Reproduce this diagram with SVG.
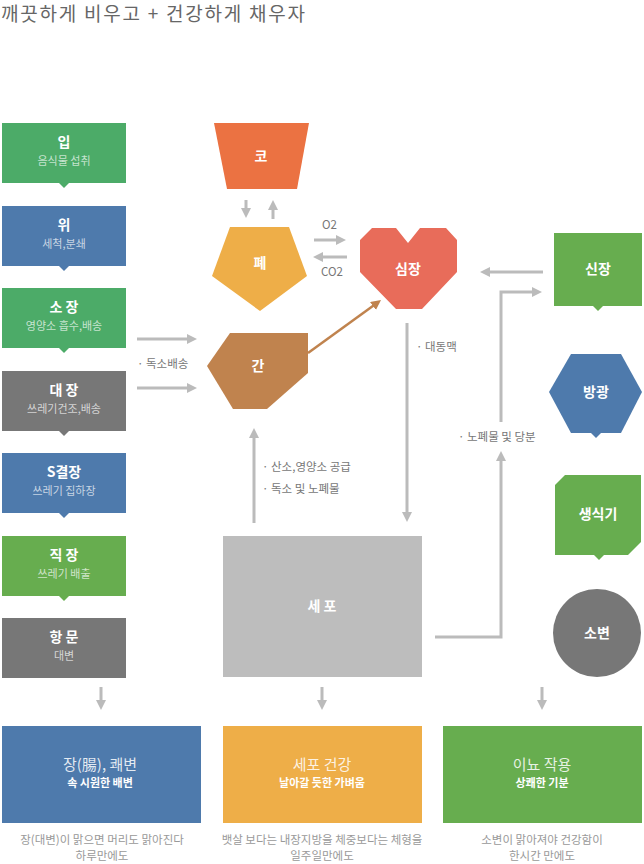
<svg xmlns="http://www.w3.org/2000/svg" width="644" height="864" viewBox="0 0 644 864">
<defs>
<marker id="ah" markerWidth="10" markerHeight="10" refX="5" refY="5" orient="auto" markerUnits="userSpaceOnUse" viewBox="0 0 10 10"><path d="M0,0 L10,5 L0,10 z" fill="#bbbbbb"/></marker>
<marker id="ahb" markerWidth="10" markerHeight="10" refX="5" refY="5" orient="auto" markerUnits="userSpaceOnUse" viewBox="0 0 10 10"><path d="M0,0 L10,5 L0,10 z" fill="#c0834e"/></marker>
<style>
text{font-family:"Noto Sans CJK KR","Noto Sans",sans-serif;}
.t{font-size:14px;font-weight:bold;fill:#ffffff;text-anchor:middle;}
.s{font-size:11px;fill:#ffffff;fill-opacity:0.7;text-anchor:middle;}
.n{font-size:14px;font-weight:bold;fill:#ffffff;text-anchor:middle;}
.lbl{font-size:11.5px;fill:#777777;}
.bt{font-size:15px;fill:#ffffff;fill-opacity:0.85;text-anchor:middle;}
.bs{font-size:11px;font-weight:bold;fill:#ffffff;text-anchor:middle;}
.cap{font-size:11.5px;fill:#999999;text-anchor:middle;}
.c{stroke:#bbbbbb;stroke-width:3;fill:none;}
.green{fill:#4cab68;}
.lgreen{fill:#67ad4f;}
.blue{fill:#4e7aac;}
.gray{fill:#777777;}
</style>
</defs>
<rect width="644" height="864" fill="#ffffff"/>
<text x="1" y="21" textLength="304" lengthAdjust="spacing" style="font-size:19px;fill:#666666;">깨끗하게 비우고 + 건강하게 채우자</text>

<g id="ip"><rect x="2" y="123" width="124" height="60" class="green"/><path d="M59,183 L69,183 L64,188 z" class="green"/><text x="64" y="147" class="t">입</text><text x="64" y="165" class="s">음식물 섭취</text></g>
<g id="wi"><rect x="2" y="206" width="124" height="60" class="blue"/><path d="M59,266 L69,266 L64,271 z" class="blue"/><text x="64" y="230" class="t">위</text><text x="64" y="248" class="s">세척,분쇄</text></g>
<g id="sojang"><rect x="2" y="288" width="124" height="60" class="green"/><path d="M59,348 L69,348 L64,353 z" class="green"/><text x="64" y="312" class="t">소 장</text><text x="64" y="330" class="s">영양소 흡수,배송</text></g>
<g id="daejang"><rect x="2" y="371" width="124" height="60" class="gray"/><path d="M59,431 L69,431 L64,436 z" class="gray"/><text x="64" y="395" class="t">대 장</text><text x="64" y="413" class="s">쓰레기건조,배송</text></g>
<g id="sgyeoljang"><rect x="2" y="453" width="124" height="60" class="blue"/><path d="M59,513 L69,513 L64,518 z" class="blue"/><text x="64" y="477" class="t">S결장</text><text x="64" y="495" class="s">쓰레기 집하장</text></g>
<g id="jikjang"><rect x="2" y="536" width="124" height="60" class="lgreen"/><path d="M59,596 L69,596 L64,601 z" class="lgreen"/><text x="64" y="560" class="t">직 장</text><text x="64" y="578" class="s">쓰레기 배출</text></g>
<g id="hangmun"><rect x="2" y="618" width="124" height="60" class="gray"/><text x="64" y="642" class="t">항 문</text><text x="64" y="660" class="s">대변</text></g>

<g id="ko"><path d="M214,123 L309,123 L297,189 L227,189 z" fill="#eb7242"/><text x="261" y="161" class="n">코</text></g>
<g id="pye"><path d="M230,227 L289,227 L307,276 L260,311 L212,276 z" fill="#eeae48"/><text x="260" y="268" class="n">폐</text></g>
<g id="simjang"><path d="M372,228 L396,228 L408,243 L420,228 L446,228 L457,240 L457,272 L422,309 L396,309 L360,272 L360,240 z" fill="#e86c5a"/><text x="408" y="274" class="n">심장</text></g>
<g id="gan"><path d="M230,333 L308,333 L308,373 L267,409 L233,409 L207,366 z" fill="#c0834e"/><text x="258" y="371" class="n">간</text></g>
<g id="sepo"><rect x="223" y="536" width="199" height="141" fill="#bdbdbd"/><text x="322" y="611" class="n">세 포</text></g>
<g id="sinjang"><rect x="554" y="233" width="88" height="73" class="lgreen"/><path d="M593,306 L603,306 L598,311 z" class="lgreen"/><text x="598" y="274" class="n">신장</text></g>
<g id="banggwang"><path d="M571,354 L621,354 L642,392 L621,433 L571,433 L549,392 z" class="blue"/><path d="M591,433 L601,433 L596,438 z" class="blue"/><text x="596" y="397" class="n">방광</text></g>
<g id="saengsikgi"><path d="M565,475 L641,475 L641,542 L628,555 L555,555 L555,485 z" class="lgreen"/><path d="M594,555 L604,555 L599,560 z" class="lgreen"/><text x="598" y="519" class="n">생식기</text></g>
<g id="sobyeon"><circle cx="597" cy="633" r="44" fill="#777777"/><text x="597" y="638" class="n">소변</text></g>

<g id="result1"><rect x="2" y="726" width="199" height="97" class="blue"/><text x="100" y="770" class="bt">장(腸), 쾌변</text><text x="100" y="787" class="bs">속 시원한 배변</text><text x="102" y="844" class="cap">장(대변)이 맑으면 머리도 맑아진다</text><text x="102" y="860" class="cap">하루만에도</text></g>
<g id="result2"><rect x="223" y="726" width="199" height="97" fill="#eeae48"/><text x="322" y="770" class="bt">세포 건강</text><text x="322" y="787" class="bs">날아갈 듯한 가벼움</text><text x="322" y="844" class="cap">뱃살 보다는 내장지방을 체중보다는 체형을</text><text x="322" y="860" class="cap">일주일만에도</text></g>
<g id="result3"><rect x="443" y="726" width="199" height="97" class="lgreen"/><text x="542" y="770" class="bt">이뇨 작용</text><text x="542" y="787" class="bs">상쾌한 기분</text><text x="542" y="844" class="cap">소변이 맑아져야 건강함이</text><text x="542" y="860" class="cap">한시간 만에도</text></g>

<g id="connectors">
<line x1="246" y1="200" x2="246" y2="213" class="c" marker-end="url(#ah)"/>
<line x1="273" y1="219" x2="273" y2="205" class="c" marker-end="url(#ah)"/>
<line x1="314" y1="240" x2="341" y2="240" class="c" marker-end="url(#ah)"/>
<line x1="347" y1="257" x2="318" y2="257" class="c" marker-end="url(#ah)"/>
<text x="322" y="229" class="lbl">O2</text>
<text x="321" y="276" class="lbl">CO2</text>
<line x1="137" y1="339" x2="192" y2="339" class="c" marker-end="url(#ah)"/>
<line x1="137" y1="388" x2="192" y2="388" class="c" marker-end="url(#ah)"/>
<text x="137" y="368" class="lbl">· 독소배송</text>
<line x1="308" y1="353" x2="377" y2="303" stroke="#c0834e" stroke-width="2.5" marker-end="url(#ahb)"/>
<line x1="254" y1="523" x2="254" y2="433" class="c" marker-end="url(#ah)"/>
<text x="262" y="471" class="lbl">· 산소,영양소 공급</text>
<text x="262" y="493" class="lbl">· 독소 및 노폐물</text>
<line x1="407" y1="323" x2="407" y2="517" class="c" marker-end="url(#ah)"/>
<text x="416" y="351" class="lbl">· 대동맥</text>
<line x1="543" y1="272" x2="485" y2="272" class="c" marker-end="url(#ah)"/>
<polyline points="435,637 501,637 501,456" class="c" marker-end="url(#ah)"/>
<polyline points="501,422 501,292 537,292" class="c" marker-end="url(#ah)"/>
<text x="458" y="441" class="lbl">· 노폐물 및 당분</text>
<line x1="101" y1="687" x2="101" y2="705" class="c" marker-end="url(#ah)"/>
<line x1="322" y1="687" x2="322" y2="705" class="c" marker-end="url(#ah)"/>
<line x1="542" y1="687" x2="542" y2="705" class="c" marker-end="url(#ah)"/>
</g>
</svg>
